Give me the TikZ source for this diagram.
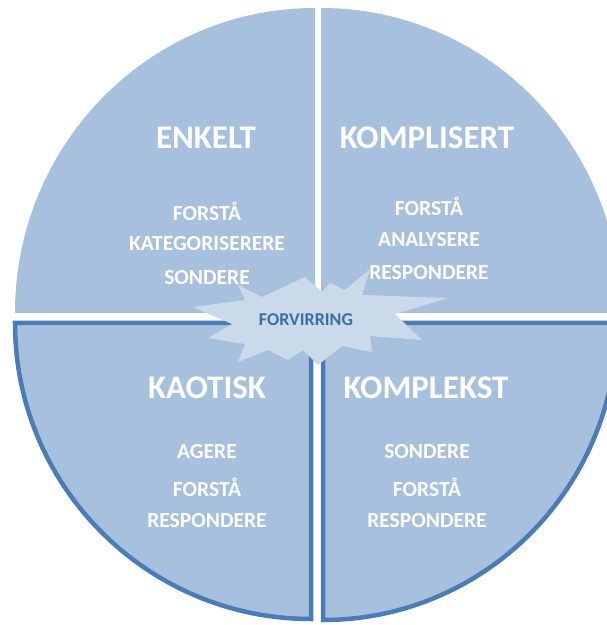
\documentclass[tikz,border=0pt]{standalone}
\usepackage{fontspec}
\setmainfont{Carlito}
\definecolor{quadfill}{HTML}{A6C0DD}
\definecolor{quadline}{HTML}{4A7DB8}
\definecolor{burstfill}{HTML}{CBDAEA}
\definecolor{bursttext}{HTML}{3A6EA5}
\tikzset{
  quad/.style={fill=quadfill},
  quadedge/.style={fill=quadfill, draw=quadline, line width=4.5pt, line join=miter},
  title/.style={text=white, font=\bfseries\fontsize{33}{36}\selectfont, inner sep=0pt},
  body/.style={text=white, font=\bfseries\fontsize{21.5}{24}\selectfont, inner sep=0pt},
  burst/.style={fill=burstfill},
  bursttxt/.style={text=bursttext, font=\bfseries\fontsize{18}{20}\selectfont, inner sep=0pt}
}
\begin{document}
\begin{tikzpicture}[x=1pt,y=1pt]
\useasboundingbox (0,0) rectangle (607,625);
\clip (0,0) rectangle (607,625);
% quadrants
\path[quad] (315,312) -- (15,312) arc[start angle=180, end angle=90, x radius=300, y radius=305] -- cycle;
\path[quad] (321,312) -- (321,617) arc[start angle=90, end angle=0, x radius=300, y radius=305] -- cycle;
\path[quadedge] (311,302) -- (15,302) arc[start angle=180, end angle=270, radius=296] -- cycle;
\path[quadedge] (323,302) -- (617,302) arc[start angle=0, end angle=-90, x radius=294, y radius=297] -- cycle;
% texts
\node[title] (enkelt) at (206,487) {ENKELT};
\node[body] (e1) at (207,414) {FORSTÅ};
\node[body] (e2) at (207,381) {KATEGORISERERE};
\node[body] (e3) at (207,347) {SONDERE};
\node[title] (kompl) at (427,487) {KOMPLISERT};
\node[body] (k1) at (429,419) {FORSTÅ};
\node[body] (k2) at (429,385) {ANALYSERE};
\node[body] (k3) at (429,352) {RESPONDERE};
\node[title] (kaotisk) at (207,237) {KAOTISK};
\node[body] (a1) at (207,173) {AGERE};
\node[body] (a2) at (207,138) {FORSTÅ};
\node[body] (a3) at (207,104) {RESPONDERE};
\node[title] (komplekst) at (426,237) {KOMPLEKST};
\node[body] (x1) at (427,173) {SONDERE};
\node[body] (x2) at (427,138) {FORSTÅ};
\node[body] (x3) at (427,104) {RESPONDERE};
% starburst
\path[burst] (193,318) -- (245,325) -- (238,340) -- (262,328) -- (305,348) -- (322,333)
  -- (330,342) -- (345,335) -- (370,356) -- (362,330) -- (448,327) -- (395,311)
  -- (422,285) -- (370,289) -- (372,273) -- (342,279) -- (318,260) -- (303,275)
  -- (288,265) -- (268,275) -- (238,263) -- (245,281) -- (208,287) -- (232,301) -- cycle;
\node[bursttxt] (forvirring) at (306,305) {FORVIRRING};
\end{tikzpicture}
\end{document}
